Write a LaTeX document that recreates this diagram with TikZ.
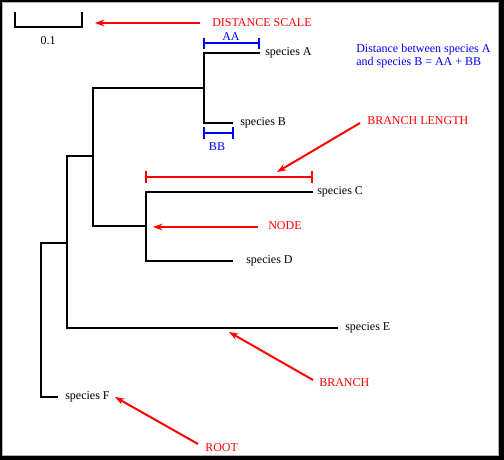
\documentclass[tikz,border=0pt]{standalone}
\usepackage{fontspec}
\setmainfont{Liberation Serif}
\usetikzlibrary{arrows.meta}
\begin{document}
\begin{tikzpicture}[x=0.75pt,y=-0.75pt,
  tree/.style={line width=1.5pt,line cap=rect},
  lbl/.style={font=\fontsize{9}{10}\selectfont,inner sep=0pt,anchor=west},
  redlbl/.style={lbl,text=red},
  bluelbl/.style={font=\fontsize{9}{10}\selectfont,inner sep=0pt,text=blue},
  redarr/.style={draw=red,line width=1.5pt,-{Stealth[length=7pt,width=5pt]}},
  redbar/.style={draw=red,line width=1.5pt},
  bluebar/.style={draw=blue,line width=1.5pt}]
\useasboundingbox (0,0) rectangle (504,460);
\fill[black] (0,0) rectangle (504,460);
\fill[white] (2,2) rectangle (499,456);
\draw[gray!60,line width=0.5pt] (2.5,2.5) rectangle (498.5,455.5);

% scale bar
\coordinate (s1) at (15,12);
\coordinate (s2) at (15,27);
\coordinate (s3) at (82,27);
\coordinate (s4) at (82,12);
\draw[tree,line cap=butt] (s1) -- (s2) -- (s3) -- (s4);
\node[font=\fontsize{9}{10}\selectfont,inner sep=0pt] (scl) at (48,41) {0.1};

% tree coordinates
\coordinate (A0) at (204,53);  \coordinate (A1) at (259,53);
\coordinate (B0) at (204,123); \coordinate (B1) at (232,123);
\coordinate (AB0) at (93,88);  \coordinate (AB1) at (204,88);
\coordinate (C0) at (146,192); \coordinate (C1) at (312,192);
\coordinate (D0) at (146,261); \coordinate (D1) at (232,261);
\coordinate (CD0) at (93,226); \coordinate (CD1) at (146,226);
\coordinate (ABCD0) at (67,156); \coordinate (ABCD1) at (93,156);
\coordinate (E0) at (67,328);  \coordinate (E1) at (337,328);
\coordinate (R0) at (41,243);  \coordinate (R1) at (67,243);
\coordinate (F0) at (41,397);  \coordinate (F1) at (57,397);

\draw[tree] (A1) -- (A0) -- (B0) -- (B1);
\draw[tree] (AB0) -- (AB1);
\draw[tree] (C1) -- (C0) -- (D0) -- (D1);
\draw[tree] (CD0) -- (CD1);
\draw[tree] (AB0) -- (CD0);
\draw[tree] (ABCD0) -- (ABCD1);
\draw[tree] (ABCD0) -- (E0) -- (E1);
\draw[tree] (R0) -- (R1);
\draw[tree] (R0) -- (F0) -- (F1);

% species labels
\node[lbl] (spA) at (265,53) {species A};
\node[lbl] (spB) at (240,123) {species B};
\node[lbl] (spC) at (317,192) {species C};
\node[lbl] (spD) at (246,261) {species D};
\node[lbl] (spE) at (345,328) {species E};
\node[lbl] (spF) at (65,397) {species F};

% AA / BB brackets
\draw[bluebar] (204,43) -- (259,43);
\draw[bluebar] (204,38) -- (204,49);
\draw[bluebar] (259,38) -- (259,49);
\node[bluelbl] (aa) at (231,37) {AA};
\draw[bluebar] (204,133) -- (233,133);
\draw[bluebar] (204,127) -- (204,139);
\draw[bluebar] (233,127) -- (233,139);
\node[bluelbl] (bb) at (217,147) {BB};
\node[bluelbl,anchor=west,align=left] (dist) at (356,56)
  {Distance between species A\\and species B = AA + BB};

% branch length bracket
\draw[redbar] (146,177) -- (312,177);
\draw[redbar] (146,171) -- (146,183);
\draw[redbar] (312,171) -- (312,183);

% red labels and arrows
\node[redlbl] (ds) at (212,23) {DISTANCE SCALE};
\coordinate (dsa) at (95,23);
\draw[redarr] ([xshift=-9pt]ds.west) -- (dsa);

\node[redlbl] (bl) at (367,121) {BRANCH LENGTH};
\coordinate (bla) at (277,172);
\draw[redarr] (360,123) -- (bla);

\node[redlbl] (nd) at (268,226) {NODE};
\coordinate (nda) at (153,227);
\draw[redarr] (258,227) -- (nda);

\node[redlbl] (br) at (319,383) {BRANCH};
\coordinate (bra) at (229,332);
\draw[redarr] (313,380) -- (bra);

\node[redlbl] (rt) at (205,448) {ROOT};
\coordinate (rta) at (115,397);
\draw[redarr] (198,444) -- (rta);
\end{tikzpicture}
\end{document}
